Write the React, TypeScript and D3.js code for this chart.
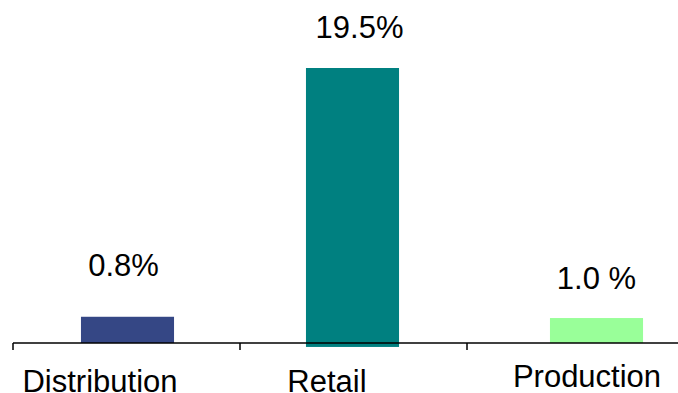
import React from "react";
import * as d3 from "d3";

// ---- data ----
const categories = ["Distribution", "Retail", "Production"];
// bar heights as drawn in the reference (in value units of the chart's scale)
const barValues = [1.86, 19.5, 1.77];
const barLows = [0, -0.28, 0];
const valueLabels = ["0.8%", "19.5%", "1.0 %"];
const colors = ["#354785", "#008080", "#99FF99"];

// ---- layout nudges (px, relative to band centre) ----
const barNudge = [1, -1, 16];
const valueNudge = [-3, 6, 16];
const valueLift = [41, 30, 29];
const catNudge = [-26.5, -26.5, 6.5];
const catDrop = [49, 49, 44];

const W = 678;
const H = 393;

export default function App() {
  const x = d3.scaleBand<string>().domain(categories).range([13, 694]).paddingInner(0).paddingOuter(0);
  const y = d3.scaleLinear().domain([0, 19.5]).range([343, 68]);
  const bw = x.bandwidth() * 0.41;
  const boundaries = [...categories.map((c) => x(c) as number), 694];
  const font = "Arial, 'Liberation Sans', sans-serif";

  return (
    <svg width={W} height={H} style={{ position: "absolute", left: 0, top: 0, background: "#fff" }}>
      {categories.map((c, i) => {
        const cx = (x(c) as number) + x.bandwidth() / 2 + barNudge[i];
        const top = y(barValues[i]);
        const bottom = y(barLows[i]);
        return <rect key={c} x={cx - bw / 2} y={top} width={bw} height={bottom - top} fill={colors[i]} />;
      })}
      <line x1={13} x2={694} y1={y(0)} y2={y(0)} stroke="#000" strokeWidth={1.6} />
      {boundaries.map((b, i) => (
        <line key={i} x1={b} x2={b} y1={y(0)} y2={y(0) + 7} stroke="#000" strokeWidth={1.5} />
      ))}
      {categories.map((c, i) => {
        const cx = (x(c) as number) + x.bandwidth() / 2;
        return (
          <text
            key={"v" + c}
            x={cx + valueNudge[i]}
            y={y(barValues[i]) - valueLift[i]}
            textAnchor="middle"
            fontFamily={font}
            fontSize={31}
            fill="#000"
          >
            {valueLabels[i]}
          </text>
        );
      })}
      {categories.map((c, i) => {
        const cx = (x(c) as number) + x.bandwidth() / 2;
        return (
          <text
            key={"c" + c}
            x={cx + catNudge[i]}
            y={y(0) + catDrop[i]}
            textAnchor="middle"
            fontFamily={font}
            fontSize={31}
            fill="#000"
          >
            {c}
          </text>
        );
      })}
    </svg>
  );
}
